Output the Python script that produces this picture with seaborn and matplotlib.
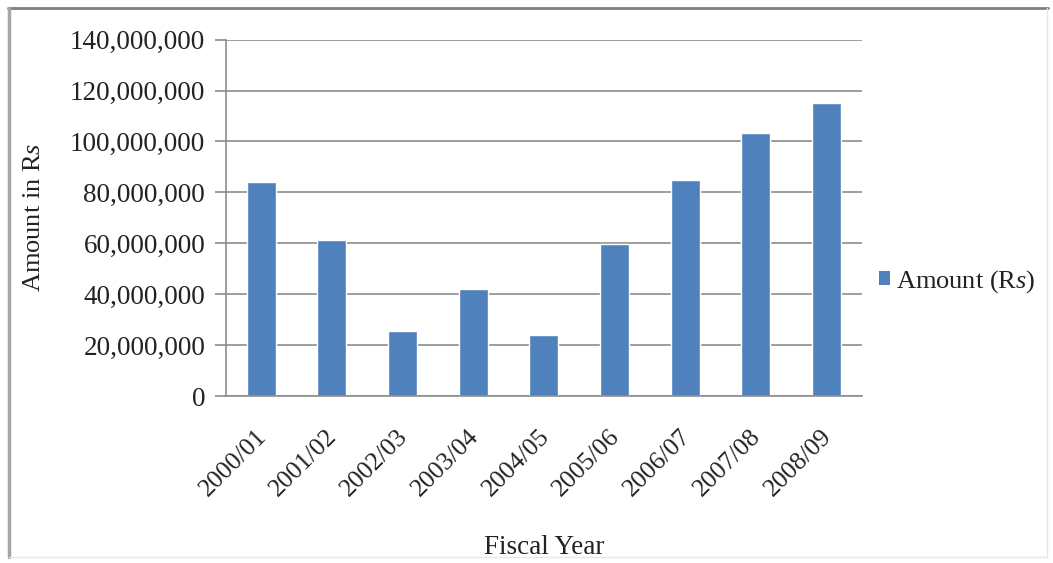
import matplotlib
matplotlib.use("Agg")
import matplotlib.pyplot as plt
import matplotlib.ticker as mticker
import matplotlib.transforms as mtransforms
from matplotlib.lines import Line2D
from matplotlib.patches import Patch
import seaborn as sns
import pandas as pd

fiscal_years = ["2000/01", "2001/02", "2002/03", "2003/04", "2004/05",
                "2005/06", "2006/07", "2007/08", "2008/09"]
amounts = [84_100_000, 61_100_000, 25_600_000, 42_100_000, 23_900_000,
           59_800_000, 84_800_000, 103_500_000, 115_100_000]
y_ticks = [0, 20_000_000, 40_000_000, 60_000_000, 80_000_000,
           100_000_000, 120_000_000, 140_000_000]

df = pd.DataFrame({"Fiscal Year": fiscal_years, "Amount": amounts})

sns.set_theme(style="white")
plt.rcParams["font.family"] = ["Liberation Serif", "DejaVu Serif"]
plt.rcParams["mathtext.fontset"] = "custom"
plt.rcParams["mathtext.rm"] = "Liberation Serif"
plt.rcParams["mathtext.it"] = "Liberation Serif:italic"

bar_color = "#4F81BD"
grid_color = "#8C8C8C"
text_color = "#222222"

fig = plt.figure(figsize=(10.53, 5.63), dpi=100)
ax = fig.add_axes([0.2146, 0.2966, 0.604, 0.633])

sns.barplot(data=df, x="Fiscal Year", y="Amount", color=bar_color,
            width=0.41, saturation=1, ax=ax)

ax.set_ylim(0, 140_000_000)
ax.set_xlim(-0.5, len(fiscal_years) - 0.5)
ax.set_yticks(y_ticks)
ax.yaxis.set_major_formatter(mticker.FuncFormatter(lambda v, p: f"{int(v):,}"))
ax.set_axisbelow(True)
ax.yaxis.grid(True, color=grid_color, linewidth=1.2)
ax.xaxis.grid(False)

for s in ["top", "right"]:
    ax.spines[s].set_visible(False)
for s in ["left", "bottom"]:
    ax.spines[s].set_color(grid_color)
    ax.spines[s].set_linewidth(1.2)

ax.tick_params(axis="y", which="major", left=True, length=8, width=1.2,
               color=grid_color, labelsize=19.5, labelcolor=text_color, pad=7)
ax.tick_params(axis="x", which="major", bottom=False, labelsize=18.5,
               labelcolor=text_color, pad=15)
shift = mtransforms.ScaledTranslation(-6 / 100, 0, fig.dpi_scale_trans)
for lbl in ax.get_xticklabels():
    lbl.set_rotation(45)
    lbl.set_ha("right")
    lbl.set_rotation_mode("anchor")
    lbl.set_transform(lbl.get_transform() + shift)

ax.set_xlabel("Fiscal Year", fontsize=19.5, color=text_color, labelpad=25)
ax.set_ylabel(r"Amount in R$\mathit{s}$", fontsize=19, color=text_color,
              labelpad=18)

handle = Patch(facecolor=bar_color, edgecolor="none")
fig.legend([handle], [r"Amount (R$\mathit{s}$)"], loc="center left",
           bbox_to_anchor=(0.812, 0.5), frameon=False, fontsize=19,
           handlelength=0.42, handleheight=0.42, handletextpad=0.25,
           labelcolor=text_color)

# outer frame of the chart area
fig.add_artist(Line2D([0.008, 0.995], [0.985, 0.985], color="#7F7F7F",
                      linewidth=2, transform=fig.transFigure))
fig.add_artist(Line2D([0.009, 0.009], [0.01, 0.985], color="#A6A6A6",
                      linewidth=2.5, transform=fig.transFigure))
fig.add_artist(Line2D([0.994, 0.994], [0.01, 0.985], color="#E6E6E6",
                      linewidth=1, transform=fig.transFigure))
fig.add_artist(Line2D([0.009, 0.994], [0.01, 0.01], color="#E6E6E6",
                      linewidth=1, transform=fig.transFigure))

fig.savefig("out.png", dpi=100, facecolor="white")
